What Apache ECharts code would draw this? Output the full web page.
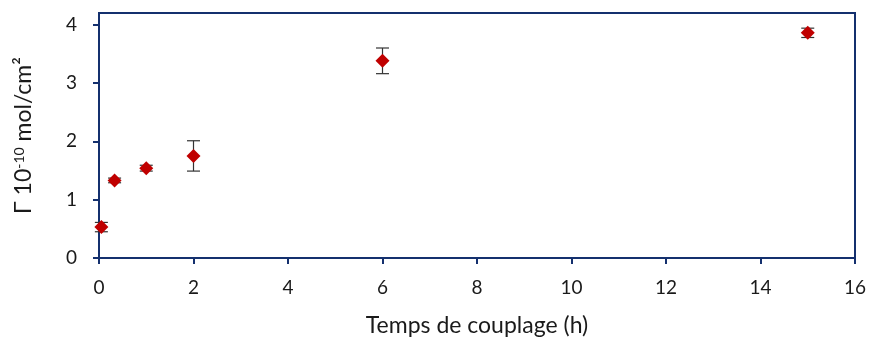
<!DOCTYPE html>
<html>
<head>
<meta charset="utf-8">
<script src="https://cdn.jsdelivr.net/npm/echarts@6/dist/echarts.min.js"></script>
<style>
  html, body { margin: 0; padding: 0; background: #fff; }
  #chart { width: 870px; height: 342px; }
</style>
</head>
<body>
<div id="chart"></div>
<script>
// Surface coverage vs. coupling time, with error bars
const hours = [0.05, 0.33, 1, 2, 6, 15];
const gamma = [0.53, 1.33, 1.54, 1.75, 3.38, 3.86];
const errors = [0.08, 0.04, 0.05, 0.26, 0.22, 0.08];
const xTicks = [0, 2, 4, 6, 8, 10, 12, 14, 16];
const yTicks = [0, 1, 2, 3, 4];

const navy = '#14306e';
const ink = '#1a1a1a';
const font = 'Lato, "Open Sans", sans-serif';

const points = hours.map((h, i) => [h, gamma[i]]);
const bars = hours.map((h, i) => [h, gamma[i] - errors[i], gamma[i] + errors[i]]);

const chart = echarts.init(document.getElementById('chart'));
chart.setOption({
  animation: false,
  grid: {
    left: 99, right: 15, top: 13, bottom: 82,
    show: true, borderColor: navy, borderWidth: 2, backgroundColor: 'transparent'
  },
  xAxis: {
    type: 'value', min: 0, max: 16, interval: 2,
    name: 'Temps de couplage (h)', nameLocation: 'middle', nameGap: 56,
    nameTextStyle: { fontFamily: font, fontSize: 23, color: ink },
    axisLine: { lineStyle: { color: navy, width: 2 } },
    axisTick: { show: true, length: 6, lineStyle: { color: navy, width: 2 }, customValues: xTicks },
    axisLabel: { fontFamily: font, fontSize: 19, color: ink, margin: 20, customValues: xTicks },
    splitLine: { show: false }
  },
  yAxis: {
    type: 'value', min: 0, max: 4.2,
    name: 'Γ 10{sup|-10} mol/cm²', nameLocation: 'middle', nameGap: 64,
    nameTextStyle: {
      fontFamily: font, fontSize: 23, color: ink,
      rich: { sup: { fontFamily: font, fontSize: 14, color: ink, verticalAlign: 'top', padding: [0, 0, 9, 0] } }
    },
    axisLine: { show: true, lineStyle: { color: navy, width: 2 } },
    axisTick: { show: true, length: 6, lineStyle: { color: navy, width: 2 }, customValues: yTicks },
    axisLabel: { fontFamily: font, fontSize: 19, color: ink, margin: 22, customValues: yTicks },
    splitLine: { show: false }
  },
  series: [
    {
      type: 'custom',
      data: bars,
      z: 2,
      renderItem: function (params, api) {
        const x = api.value(0);
        const lo = api.coord([x, api.value(1)]);
        const hi = api.coord([x, api.value(2)]);
        const cap = 6.5;
        const style = { stroke: '#333', lineWidth: 1.2 };
        return {
          type: 'group',
          children: [
            { type: 'line', shape: { x1: lo[0], y1: lo[1], x2: hi[0], y2: hi[1] }, style },
            { type: 'line', shape: { x1: lo[0] - cap, y1: lo[1], x2: lo[0] + cap, y2: lo[1] }, style },
            { type: 'line', shape: { x1: hi[0] - cap, y1: hi[1], x2: hi[0] + cap, y2: hi[1] }, style }
          ]
        };
      }
    },
    {
      type: 'scatter',
      data: points,
      symbol: 'diamond',
      symbolSize: 14,
      z: 3,
      itemStyle: { color: '#c00000', opacity: 1 }
    }
  ]
});
</script>
</body>
</html>
